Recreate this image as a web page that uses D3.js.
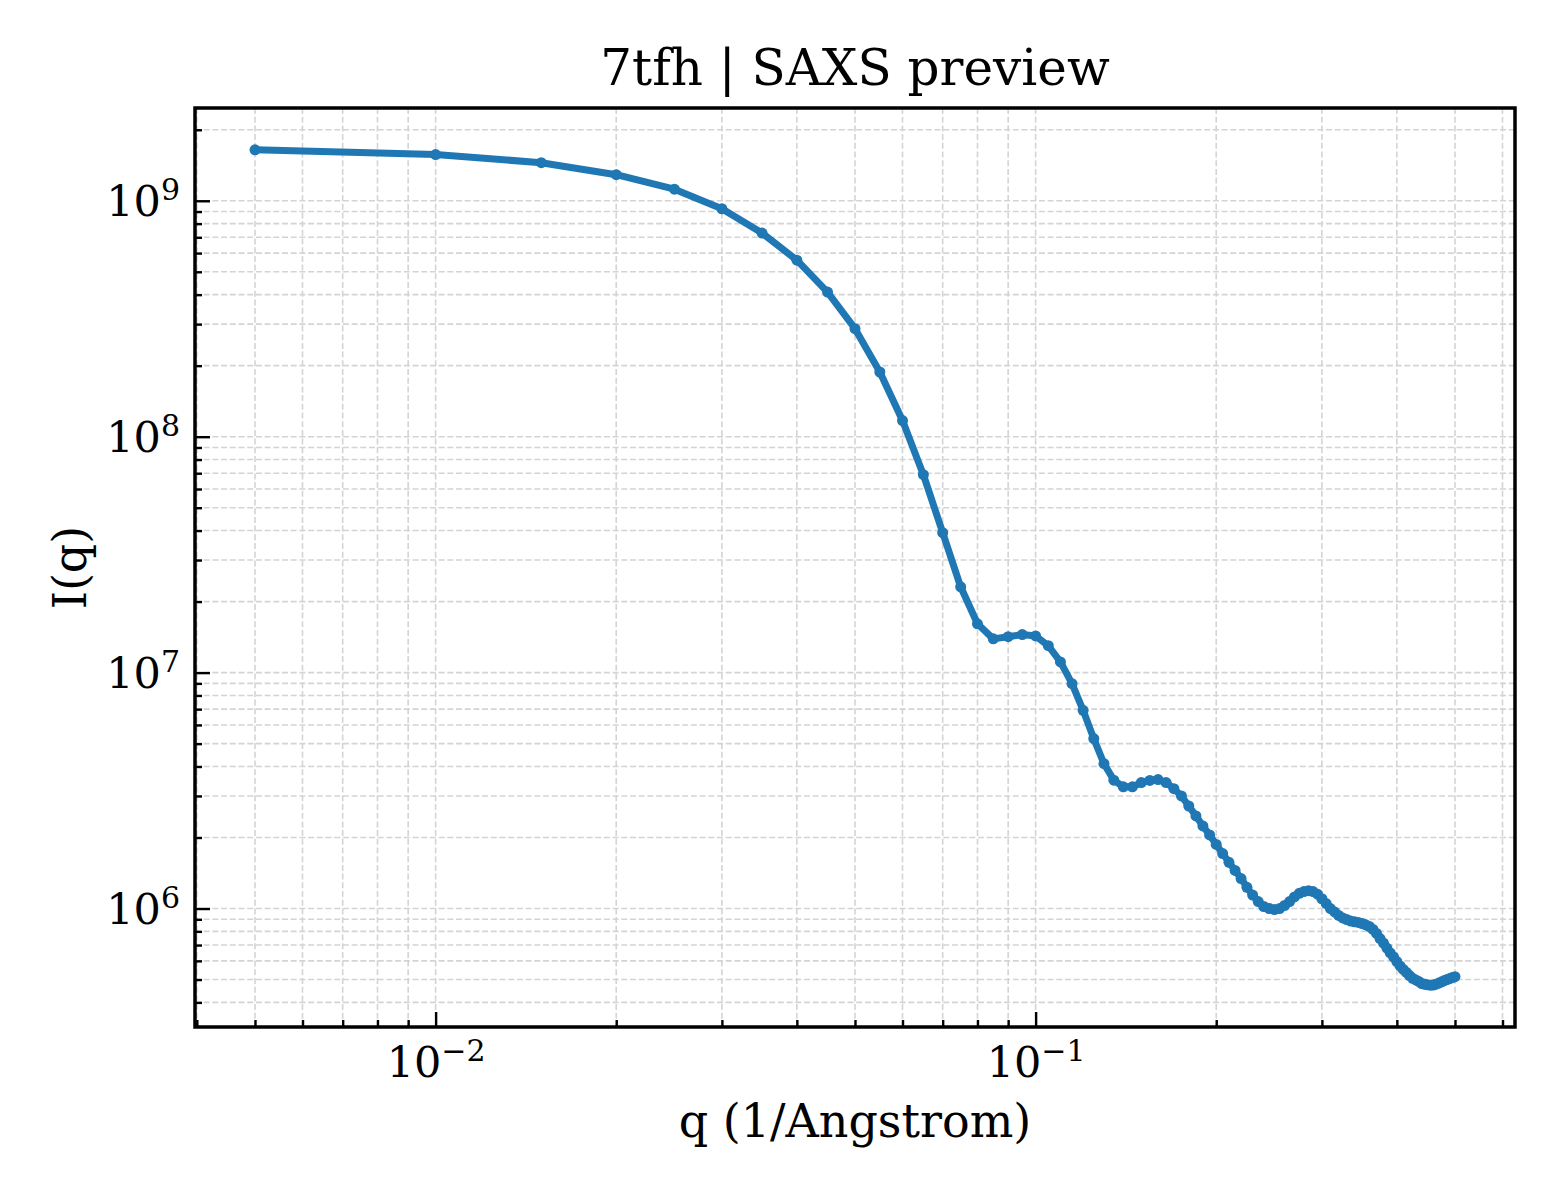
<!DOCTYPE html>
<html>
<head>
<meta charset="utf-8">
<script src="https://cdn.jsdelivr.net/npm/d3@7"></script>
<style>
  body { margin: 0; background: #fff; }
  svg { font-family: "DejaVu Serif", serif; }
</style>
</head>
<body>
<div id="chart"></div>
<script>
// scattering vector q (1/Angstrom)
const qValues = [
  0.005, 0.010, 0.015, 0.020, 0.025, 0.030, 0.035, 0.040, 0.045, 0.050,
  0.055, 0.060, 0.065, 0.070, 0.075, 0.080, 0.085, 0.090, 0.095, 0.100,
  0.105, 0.110, 0.115, 0.120, 0.125, 0.130, 0.135, 0.140, 0.145, 0.150,
  0.155, 0.160, 0.165, 0.170, 0.175, 0.180, 0.185, 0.190, 0.195, 0.200,
  0.205, 0.210, 0.215, 0.220, 0.225, 0.230, 0.235, 0.240, 0.245, 0.250,
  0.255, 0.260, 0.265, 0.270, 0.275, 0.280, 0.285, 0.290, 0.295, 0.300,
  0.305, 0.310, 0.315, 0.320, 0.325, 0.330, 0.335, 0.340, 0.345, 0.350,
  0.355, 0.360, 0.365, 0.370, 0.375, 0.380, 0.385, 0.390, 0.395, 0.400,
  0.405, 0.410, 0.415, 0.420, 0.425, 0.430, 0.435, 0.440, 0.445, 0.450,
  0.455, 0.460, 0.465, 0.470, 0.475, 0.480, 0.485, 0.490, 0.495, 0.500
];

// intensity I(q)
const intensity = [
  1.645e9, 1.57e9, 1.45e9, 1.29e9, 1.12e9, 9.25e8, 7.3e8, 5.6e8, 4.1e8, 2.87e8,
  1.88e8, 1.17e8, 6.9e7, 3.92e7, 2.31e7, 1.61e7, 1.39e7, 1.42e7, 1.45e7, 1.43e7,
  1.30e7, 1.11e7, 8.98e6, 6.92e6, 5.25e6, 4.11e6, 3.50e6, 3.28e6, 3.28e6, 3.42e6,
  3.49e6, 3.52e6, 3.42e6, 3.22e6, 3.00e6, 2.72e6, 2.47e6, 2.24e6, 2.05e6, 1.87e6,
  1.71e6, 1.57e6, 1.45e6, 1.34e6, 1.23e6, 1.14e6, 1.07e6, 1.02e6, 1.00e6, 9.9e5,
  1.00e6, 1.03e6, 1.07e6, 1.12e6, 1.16e6, 1.18e6, 1.19e6, 1.18e6, 1.15e6, 1.10e6,
  1.05e6, 1.00e6, 9.67e5, 9.35e5, 9.12e5, 8.98e5, 8.85e5, 8.78e5, 8.73e5, 8.64e5,
  8.53e5, 8.39e5, 8.15e5, 7.84e5, 7.46e5, 7.14e5, 6.80e5, 6.48e5, 6.23e5, 5.96e5,
  5.71e5, 5.52e5, 5.36e5, 5.20e5, 5.06e5, 4.98e5, 4.91e5, 4.81e5, 4.77e5, 4.75e5,
  4.73e5, 4.74e5, 4.78e5, 4.83e5, 4.89e5, 4.95e5, 5.00e5, 5.05e5, 5.10e5, 5.14e5
];

const xTickExponents = [-2, -1];
const yTickExponents = [6, 7, 8, 9];

const titleText = "7tfh | SAXS preview";
const xLabel = "q (1/Angstrom)";
const yLabel = "I(q)";

const width = 1560, height = 1200;
const margin = {top: 108, right: 45, bottom: 173, left: 195};
const innerW = width - margin.left - margin.right;
const innerH = height - margin.top - margin.bottom;

const data = qValues.map((q, i) => ({q: q, I: intensity[i]}));

// log extent padded by 5% on each side, like matplotlib autoscale
function paddedLogDomain(values) {
  let lo = Math.log10(d3.min(values)), hi = Math.log10(d3.max(values));
  let pad = (hi - lo) * 0.05;
  return [Math.pow(10, lo - pad), Math.pow(10, hi + pad)];
}

const x = d3.scaleLog().domain(paddedLogDomain(qValues)).range([0, innerW]);
const y = d3.scaleLog().domain(paddedLogDomain(intensity)).range([innerH, 0]);

const isMajor = v => Math.abs(Math.log10(v) - Math.round(Math.log10(v))) < 1e-9;
const xAll = x.ticks().filter(v => v >= x.domain()[0] && v <= x.domain()[1]);
const yAll = y.ticks().filter(v => v >= y.domain()[0] && v <= y.domain()[1]);
const xMajor = xTickExponents.map(e => Math.pow(10, e));
const yMajor = yTickExponents.map(e => Math.pow(10, e));
const xMinor = xAll.filter(v => !isMajor(v));
const yMinor = yAll.filter(v => !isMajor(v));

const svg = d3.select("#chart").append("svg")
  .attr("width", width)
  .attr("height", height);

const g = svg.append("g")
  .attr("transform", `translate(${margin.left},${margin.top})`);

// grid (major + minor, dashed)
const grid = g.append("g").attr("class", "grid");
grid.selectAll(".gx")
  .data(xAll)
  .enter().append("line")
  .attr("x1", d => x(d)).attr("x2", d => x(d))
  .attr("y1", 0).attr("y2", innerH);
grid.selectAll(".gy")
  .data(yAll)
  .enter().append("line")
  .attr("x1", 0).attr("x2", innerW)
  .attr("y1", d => y(d)).attr("y2", d => y(d));
grid.selectAll("line")
  .attr("stroke", "#d4d4d4")
  .attr("stroke-width", 1.6)
  .attr("stroke-dasharray", "6,2.7");

// the curve
const line = d3.line()
  .x(d => x(d.q))
  .y(d => y(d.I));

g.append("path")
  .datum(data)
  .attr("fill", "none")
  .attr("stroke", "#1f77b4")
  .attr("stroke-width", 7)
  .attr("stroke-linejoin", "round")
  .attr("d", line);

g.selectAll(".dot")
  .data(data)
  .enter().append("circle")
  .attr("class", "dot")
  .attr("cx", d => x(d.q))
  .attr("cy", d => y(d.I))
  .attr("r", 5.5)
  .attr("fill", "#1f77b4");

// power-of-ten labels: "10" with a raised exponent
function powerLabel(sel) {
  sel.each(function(d) {
    let t = d3.select(this);
    let e = Math.round(Math.log10(d));
    t.text(null);
    t.append("tspan").text("10");
    t.append("tspan")
      .attr("dy", "-16")
      .style("font-size", "30px")
      .text(e < 0 ? "\u2212" + (-e) : String(e));
  });
}

// axes, ticks pointing inward
const xAxis = g.append("g")
  .attr("transform", `translate(0,${innerH})`)
  .call(d3.axisBottom(x).tickValues(xMajor).tickSize(-15).tickPadding(19).tickFormat(d => d));
xAxis.selectAll("text").call(powerLabel);

g.append("g")
  .attr("transform", `translate(0,${innerH})`)
  .call(d3.axisBottom(x).tickValues(xMinor).tickSize(-7).tickFormat(""));

const yAxis = g.append("g")
  .call(d3.axisLeft(y).tickValues(yMajor).tickSize(-15).tickPadding(15).tickFormat(d => d));
yAxis.selectAll("text").attr("dy", "0.35em").call(powerLabel);

g.append("g")
  .call(d3.axisLeft(y).tickValues(yMinor).tickSize(-7).tickFormat(""));

g.selectAll(".tick line").attr("stroke", "#000").attr("stroke-width", 2.4);
g.selectAll(".domain").remove();
g.selectAll(".tick text")
  .attr("fill", "#000")
  .style("font-family", "DejaVu Serif")
  .style("font-size", "43px");

// frame
g.append("rect")
  .attr("width", innerW)
  .attr("height", innerH)
  .attr("fill", "none")
  .attr("stroke", "#000")
  .attr("stroke-width", 3.5);

// title and labels
svg.append("text")
  .attr("x", margin.left + innerW / 2)
  .attr("y", 85)
  .attr("text-anchor", "middle")
  .style("font-size", "50px")
  .text(titleText);

svg.append("text")
  .attr("x", margin.left + innerW / 2)
  .attr("y", 1137)
  .attr("text-anchor", "middle")
  .style("font-size", "46px")
  .text(xLabel);

svg.append("text")
  .attr("transform", `translate(86,${margin.top + innerH / 2}) rotate(-90)`)
  .attr("text-anchor", "middle")
  .style("font-size", "46px")
  .text(yLabel);
</script>
</body>
</html>
